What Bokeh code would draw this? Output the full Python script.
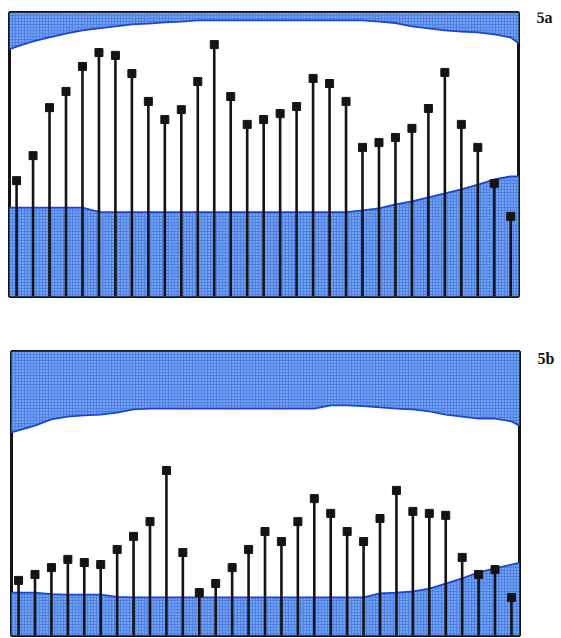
from bokeh.plotting import figure
from bokeh.models import Range1d
from bokeh.layouts import column, row
from bokeh.core.properties import value
from bokeh.embed import file_html
from bokeh.resources import INLINE

# ---- data ----
idx = list(range(31))
edge_x = [-0.45] + idx + [30.5]

# panel 5a
a_stems = [40.8, 49.6, 66.5, 72.2, 81.0, 85.9, 84.9, 78.5, 68.7, 62.3,
           65.8, 75.7, 88.7, 70.4, 60.6, 62.3, 64.4, 66.9, 76.8, 75.0,
           68.7, 52.5, 54.2, 56.0, 59.2, 66.2, 78.9, 60.6, 52.5, 39.8, 28.2]
a_floor = [31.3, 31.3, 31.3, 31.3, 31.3, 31.3, 29.8, 29.7, 29.7, 29.7, 29.7,
           29.7, 29.7, 29.7, 29.7, 29.7, 29.7, 29.7, 29.7, 29.7, 29.7,
           29.7, 30.3, 31.0, 32.4, 33.5, 34.9, 36.3, 37.7, 39.4, 41.2, 42.3, 42.3]
a_ceil = [87.0, 88.0, 89.8, 91.2, 92.6, 93.7, 94.4, 95.1, 95.8, 96.1, 96.5, 96.8,
          97.2, 97.2, 97.2, 97.2, 97.2, 97.2, 97.2, 97.2, 97.2, 97.2, 97.2,
          96.8, 96.3, 95.1, 94.4, 93.7, 93.3, 93.0, 92.3, 91.2, 89.1]

# panel 5b
b_stems = [19.4, 21.5, 23.9, 26.8, 25.7, 25.0, 30.3, 34.9, 40.1, 58.1,
           29.2, 15.1, 18.3, 23.9, 30.3, 36.6, 33.1, 40.1, 48.2, 43.0,
           36.6, 33.1, 41.2, 51.1, 43.7, 43.0, 42.3, 27.5, 21.5, 23.2, 13.4]
b_floor = [15.1, 15.1, 15.1, 14.6, 14.4, 14.4, 14.4, 13.6, 13.4, 13.4, 13.4,
           13.4, 13.4, 13.4, 13.4, 13.4, 13.4, 13.4, 13.4, 13.4, 13.4,
           13.4, 13.4, 14.8, 15.1, 15.5, 16.5, 18.3, 20.1, 22.2, 23.6, 25.0, 25.7]
b_ceil = [71.5, 72.2, 73.9, 76.1, 77.1, 77.5, 77.8, 78.5, 79.6, 79.9, 79.9,
          79.9, 79.9, 79.9, 79.9, 79.9, 79.9, 79.9, 79.9, 79.9, 81.0,
          81.0, 80.8, 80.3, 79.9, 79.6, 78.9, 77.8, 77.1, 76.4, 76.4, 75.4, 73.9]

labels = ["5a", "5b"]

FILL = "#4c82e6"
HATCH = "#b4cbfa"
EDGE = "#1c46d2"
INK = "#141414"
TOTAL_W = 556


def panel(stems, floor, ceil, width, height, b_top, b_bottom, b_left, x_end):
    p = figure(width=width, height=height, output_backend="svg", toolbar_location=None,
               title=None, x_axis_type=None, y_axis_type=None,
               x_range=Range1d(-0.43, x_end), y_range=Range1d(0, 100),
               min_border_top=b_top, min_border_bottom=b_bottom,
               min_border_left=b_left, min_border_right=2)
    p.outline_line_color = INK
    p.outline_line_width = 3
    p.background_fill_color = "white"
    p.border_fill_color = "white"
    for y1, y2 in ((0, floor), (ceil, 100)):
        p.varea(x=edge_x, y1=y1, y2=y2, fill_color=FILL,
                hatch_pattern="dot", hatch_color=HATCH, hatch_scale=3, hatch_weight=1.3)
    p.line(edge_x, floor, line_color=EDGE, line_width=1.8)
    p.line(edge_x, ceil, line_color=EDGE, line_width=1.8)
    p.segment(x0=idx, y0=0, x1=idx, y1=stems, line_color=INK, line_width=2.6)
    p.scatter(idx, stems, marker="square", size=8, fill_color=INK, line_color=INK)
    return p


def label_fig(text, width, height, b_top, b_bottom, text_x, text_y):
    # borders match the neighbouring panel, so y runs 0..100 over the same box height
    q = figure(width=width, height=height, output_backend="svg", toolbar_location=None,
               title=None, x_axis_type=None, y_axis_type=None,
               x_range=Range1d(0, width), y_range=Range1d(0, 100),
               min_border_top=b_top, min_border_bottom=b_bottom,
               min_border_left=0, min_border_right=0)
    q.outline_line_color = None
    q.text(x=[text_x], y=[text_y], text=[text],
           text_font=value("Liberation Serif"), text_font_style="bold",
           text_font_size="16px", text_baseline="alphabetic", text_align="left",
           text_color="#111111")
    return q


pa_w, pa_h = 520, 321
pb_w, pb_h = 521, 316
pa = panel(a_stems, a_floor, a_ceil, pa_w, pa_h, 12, 25, 9, 30.47)
pb = panel(b_stems, b_floor, b_ceil, pb_w, pb_h, 30, 2, 11, 30.49)
la = label_fig(labels[0], TOTAL_W - pa_w, pa_h, 12, 25, 16, 98.2)
lb = label_fig(labels[1], TOTAL_W - pb_w, pb_h, 30, 2, 16, 97.7)

layout = column(row(pa, la, spacing=0), row(pb, lb, spacing=0), spacing=0)
open("out.html", "w").write(file_html(layout, INLINE))
